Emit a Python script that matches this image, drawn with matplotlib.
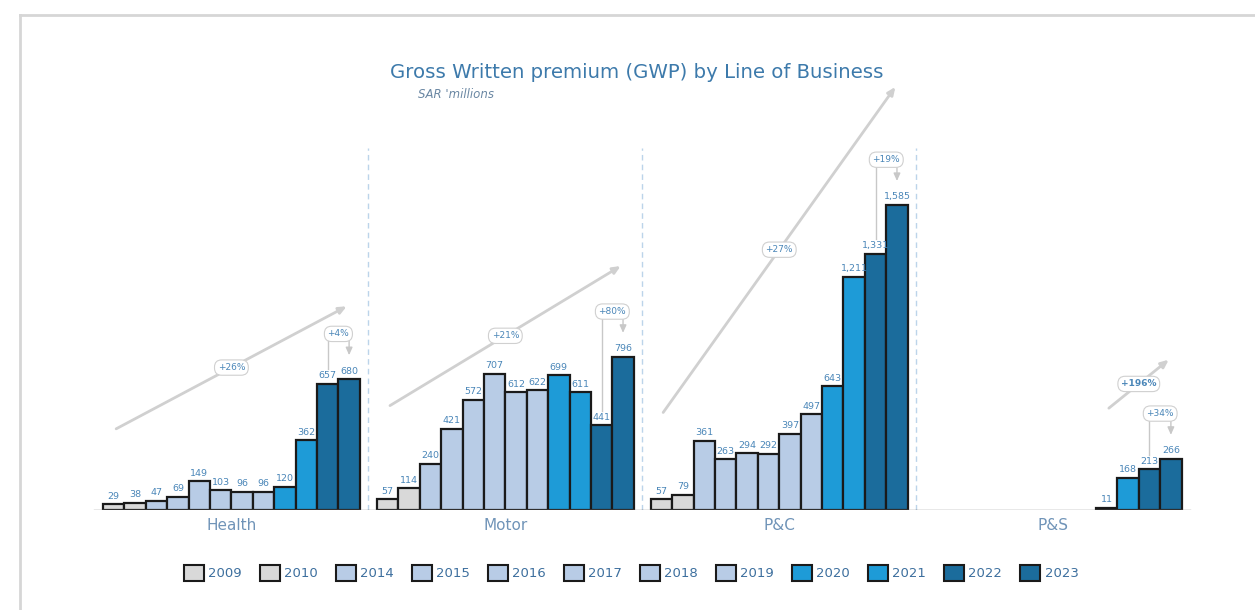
"""Gross Written Premium by line of business — grouped bar chart."""

import matplotlib
matplotlib.use("Agg")
import matplotlib.pyplot as plt
from matplotlib.lines import Line2D
from matplotlib.patches import Patch

# --- data -------------------------------------------------------------------
years = ["2009", "2010", "2014", "2015", "2016", "2017", "2018", "2019",
         "2020", "2021", "2022", "2023"]
lines_of_business = ["Health", "Motor", "P&C", "P&S"]
health = [29, 38, 47, 69, 149, 103, 96, 96, 120, 362, 657, 680]
motor = [57, 114, 240, 421, 572, 707, 612, 622, 699, 611, 441, 796]
p_and_c = [57, 79, 361, 263, 294, 292, 397, 497, 643, 1211, 1331, 1585]
p_and_s = [None] * 8 + [11, 168, 213, 266]
cagr_labels = ["+26%", "+21%", "+27%", "+196%"]
yoy_labels = ["+4%", "+80%", "+19%", "+34%"]

series = [health, motor, p_and_c, p_and_s]

# --- style ------------------------------------------------------------------
year_colors = (["#d9d9d9"] * 2 + ["#b8cce6"] * 6 + ["#1e9bd7"] * 2
               + ["#1b6c9c"] * 2)
TEXT_BLUE = "#4a86b8"
GROUP_STEP = 12.8
# CAGR arrow: (start bar, start y, end bar, end y) in data units per group
cagr_arrows = [(0, 415, 11, 1065), (0, 535, 11, 1275),
               (0, 495, 11, 2210), (8, 520, 11, 790)]

fig = plt.figure(figsize=(12.55, 6.10), dpi=100)
ax = fig.add_axes([80 / 1255, 100 / 610, 1120 / 1255, 470 / 610])
ax.set_xlim(-1.575, 50.76)
ax.set_ylim(0, 2442)
ax.axis("off")

for g, (name, vals) in enumerate(zip(lines_of_business, series)):
    x0 = g * GROUP_STEP
    xs = [x0 + i for i in range(len(years))]
    for x, v, c in zip(xs, vals, year_colors):
        if v is None:
            continue
        ax.bar(x, v, width=1.0, color=c, edgecolor="#1a1a1a", linewidth=1.6,
               zorder=3)
        ax.annotate(f"{v:,}", (x, v), xytext=(0, 2.5),
                    textcoords="offset points", ha="center", va="bottom",
                    fontsize=6.8, color=TEXT_BLUE, zorder=4)
    # baseline
    ax.plot([x0 - 0.9, x0 + 11.9], [0, 0], color="#8a8a8a", lw=1.0, zorder=4)
    # category label
    ax.text(x0 + 5.5, -40, name, ha="center", va="top", fontsize=11,
            color="#7094b8")
    # separator
    if g > 0:
        ax.plot([x0 - 0.9, x0 - 0.9], [0, 1880], color="#bcd4ea", lw=1.0,
                ls=(0, (4, 3)), zorder=1)

    # CAGR arrow
    i0, y0, i1, y1 = cagr_arrows[g]
    ax.annotate("", xy=(x0 + i1, y1), xytext=(x0 + i0, y0),
                arrowprops=dict(arrowstyle="-|>,head_length=0.45,head_width=0.2",
                                color="#d0d0d0", lw=2.0), zorder=2)
    ax.text(x0 + (i0 + i1) / 2, (y0 + y1) / 2, cagr_labels[g], ha="center",
            va="center", fontsize=6.5, color=TEXT_BLUE,
            fontweight="bold" if g == 3 else "normal",
            bbox=dict(boxstyle="round,pad=0.35,rounding_size=0.8",
                      fc="white", ec="#d0d0d0", lw=0.8), zorder=5)

    # year-on-year bracket 2022 -> 2023
    v22, v23 = vals[10], vals[11]
    xa, xb = x0 + 10, x0 + 11
    yb = max(v22, v23) + 235
    ax.plot([xa, xa], [v22 + 75, yb], color="#c8c8c8", lw=1.0, zorder=2)
    ax.annotate("", xy=(xb, v23 + 110), xytext=(xb, yb),
                arrowprops=dict(arrowstyle="-|>,head_length=0.45,head_width=0.2",
                                color="#c8c8c8", lw=1.0), zorder=2)
    ax.text((xa + xb) / 2, yb, yoy_labels[g], ha="center", va="center",
            fontsize=6.5, color=TEXT_BLUE,
            bbox=dict(boxstyle="round,pad=0.35,rounding_size=0.8",
                      fc="white", ec="#d0d0d0", lw=0.8), zorder=5)

# titles
fig.text(0.5075, 1 - 72 / 610, "Gross Written premium (GWP) by Line of Business",
         ha="center", va="center", fontsize=14.2, color="#3d7aab")
fig.text(418 / 1255, 1 - 95 / 610, "SAR 'millions", ha="left", va="center",
         fontsize=8.5, style="italic", color="#6a87a3")

# legend
handles = [Patch(facecolor=c, edgecolor="#1a1a1a", linewidth=1.5)
           for c in year_colors]
leg = fig.legend(handles, years, loc="center", ncol=12, frameon=False,
                 bbox_to_anchor=(0.503, 1 - 573 / 610), fontsize=9.5,
                 handlelength=1.5, handleheight=1.4, handletextpad=0.35,
                 columnspacing=1.35)
for t in leg.get_texts():
    t.set_color("#3d6f9e")

# outer frame (top and left edges)
fig.add_artist(Line2D([19.5 / 1255, 1], [1 - 15 / 610, 1 - 15 / 610],
                      transform=fig.transFigure, color="#d6d6d6", lw=2))
fig.add_artist(Line2D([19.5 / 1255, 19.5 / 1255], [0, 1 - 15 / 610],
                      transform=fig.transFigure, color="#d6d6d6", lw=2))

fig.savefig("out.png", dpi=100)
